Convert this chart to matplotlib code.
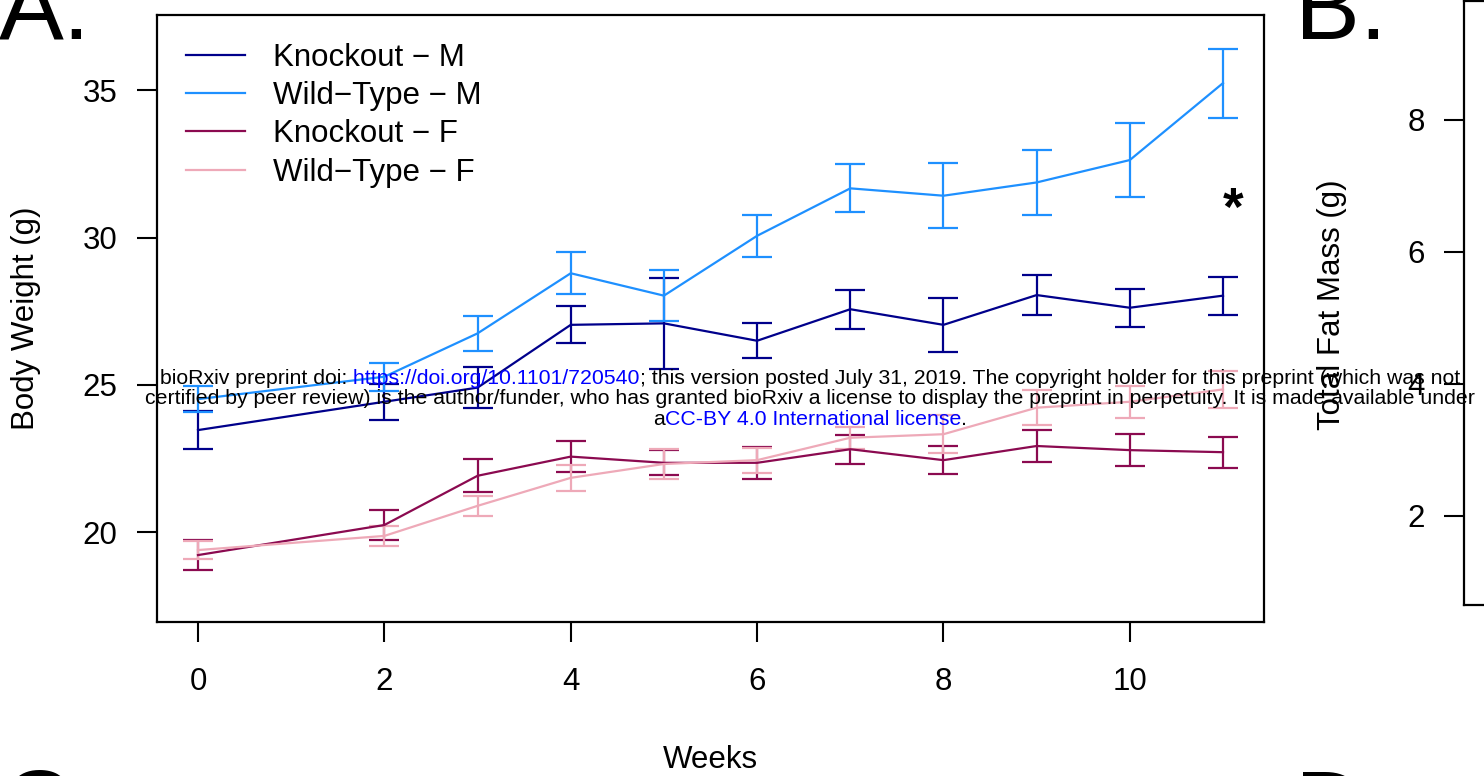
import matplotlib
matplotlib.use("Agg")
import matplotlib.pyplot as plt

plt.rcParams['font.family'] = ['Liberation Sans', 'DejaVu Sans']

# Body weight over time (mean +/- SEM)
weeks = [0, 2, 3, 4, 5, 6, 7, 8, 9, 10, 11]
ko_m = [23.47, 24.43, 24.91, 27.04, 27.09, 26.50, 27.57, 27.04, 28.05, 27.62, 28.03]
ko_m_se = [0.65, 0.62, 0.69, 0.63, 1.54, 0.60, 0.66, 0.91, 0.67, 0.64, 0.64]
wt_m = [24.52, 25.28, 26.75, 28.79, 28.03, 30.06, 31.67, 31.42, 31.87, 32.63, 35.24]
wt_m_se = [0.43, 0.48, 0.59, 0.71, 0.87, 0.72, 0.81, 1.11, 1.10, 1.26, 1.17]
ko_f = [19.23, 20.25, 21.92, 22.57, 22.36, 22.36, 22.82, 22.45, 22.93, 22.79, 22.72]
ko_f_se = [0.50, 0.52, 0.56, 0.53, 0.42, 0.54, 0.50, 0.47, 0.53, 0.54, 0.52]
wt_f = [19.40, 19.88, 20.90, 21.85, 22.32, 22.45, 23.21, 23.33, 24.23, 24.43, 24.85]
wt_f_se = [0.30, 0.33, 0.33, 0.44, 0.51, 0.42, 0.38, 0.65, 0.60, 0.55, 0.62]

series_labels = ["Knockout \u2212 M", "Wild\u2212Type \u2212 M",
                 "Knockout \u2212 F", "Wild\u2212Type \u2212 F"]
series_colors = ["#00008B", "#1E90FF", "#8B0A50", "#EEA9B8"]

x_ticks = [0, 2, 4, 6, 8, 10]
y_ticks = [20, 25, 30, 35]
fat_ticks = [2, 4, 6, 8]

W, H = 1484, 776
FS = 22.5


def fbox(left, top, right, bottom):
    return [left / W, 1 - bottom / H, (right - left) / W, (bottom - top) / H]


fig = plt.figure(figsize=(W / 100, H / 100), dpi=100)
fig.patch.set_facecolor("white")

# ---- Panel A: body weight ----
ax = fig.add_axes(fbox(157, 15, 1264, 622))
handles = []
for vals, errs, col in zip([ko_m, wt_m, ko_f, wt_f],
                           [ko_m_se, wt_m_se, ko_f_se, wt_f_se],
                           series_colors):
    cont = ax.errorbar(weeks, vals, yerr=errs, color=col, lw=1.6,
                       elinewidth=1.6, capsize=11, capthick=1.6)
    handles.append(cont.lines[0])

ax.set_xlim(-0.44, 11.44)
ax.set_ylim(16.96, 37.55)
ax.set_xticks(x_ticks)
ax.set_yticks(y_ticks)
for s in ax.spines.values():
    s.set_linewidth(1.6)
ax.tick_params(axis="both", direction="out", length=14.4, width=1.5,
               labelsize=FS)
ax.tick_params(axis="x", pad=18)
ax.tick_params(axis="y", pad=14)

ax.set_xlabel("Weeks", fontsize=FS)
ax.xaxis.set_label_coords(0.5, -(768 - 622) / 607)
ax.xaxis.label.set_verticalalignment("baseline")
ax.set_ylabel("Body Weight (g)", fontsize=FS)
ax.yaxis.set_label_coords(26 / W, 1 - 318.5 / H, transform=fig.transFigure)
ax.yaxis.label.set_verticalalignment("center")

ax.text(11.11, 30.92, "*", fontsize=38, fontweight="bold",
        ha="center", va="center")

ax.legend(handles, series_labels, loc="upper left",
          bbox_to_anchor=((185.7 - 157) / 1107, 1 - (42.5 - 15) / 607),
          frameon=False, fontsize=FS, handlelength=1.885,
          handletextpad=0.915, labelspacing=0.27, borderpad=0,
          borderaxespad=0)

# ---- Panel B: fat mass (left edge only) ----
axb = fig.add_axes(fbox(1464, 1, 2600, 605))
axb.set_ylim(0.652, 9.80)
axb.set_yticks(fat_ticks)
axb.set_xticks([])
for s in axb.spines.values():
    s.set_linewidth(1.6)
axb.tick_params(axis="y", direction="out", length=14.4, width=1.5,
                labelsize=FS, pad=14)
axb.set_ylabel("Total Fat Mass (g)", fontsize=FS)
axb.yaxis.set_label_coords(1332 / W, 1 - 304.5 / H, transform=fig.transFigure)
axb.yaxis.label.set_verticalalignment("center")

# ---- Panel letters ----
for letter, px, py in [("A.", -1, 38.6), ("B.", 1295, 38.6),
                       ("C.", 2, 837), ("D.", 1295, 838)]:
    fig.text(px / W, 1 - py / H, letter, fontsize=70, ha="left",
             va="baseline")

# ---- Preprint notice ----
WM_FS = 15.3
notice = [
    (384.3, [("bioRxiv preprint doi:", "black"),
             (" https://doi.org/10.1101/720540", "#0000FF"),
             ("; this version posted July 31, 2019. The copyright holder for "
              "this preprint (which was not", "black")]),
    (404.3, [("certified by peer review) is the author/funder, who has granted "
              "bioRxiv a license to display the preprint in perpetuity. It is "
              "made available under", "black")]),
    (424.5, [("a", "black"), ("CC-BY 4.0 International license", "#0000FF"),
             (".", "black")]),
]
renderer = fig.canvas.get_renderer()
for base_y, parts in notice:
    texts = [fig.text(0, 1 - base_y / H, s, color=c, fontsize=WM_FS,
                      ha="left", va="baseline", zorder=10)
             for s, c in parts]
    widths = [t.get_window_extent(renderer).width for t in texts]
    x = 810 - sum(widths) / 2
    for t, w in zip(texts, widths):
        t.set_x(x / W)
        x += w

fig.savefig("out.png", dpi=100, facecolor="white")
